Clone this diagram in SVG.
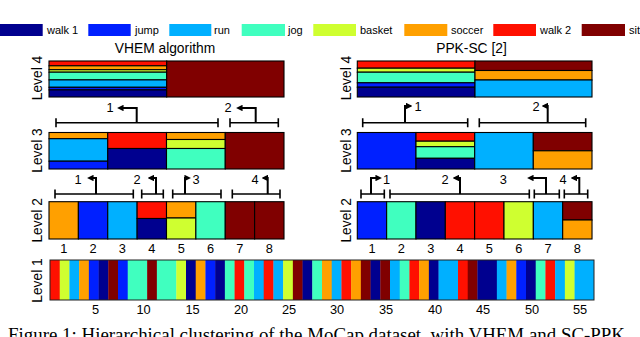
<svg xmlns="http://www.w3.org/2000/svg" width="640" height="337" viewBox="0 0 640 337">
<defs>
<style>
.w1{fill:#00008f}.ju{fill:#0020ff}.ru{fill:#00b0ff}.jo{fill:#40ffbf}.ba{fill:#cfff30}.so{fill:#ffa000}.w2{fill:#ff1000}.si{fill:#800000}
.c rect{stroke:#000;stroke-width:1.1}
text{font-family:"Liberation Sans",Arial,sans-serif;fill:#000}
.lg{font-size:11px}
.t{font-size:13.8px;text-anchor:middle}
.n{font-size:12.8px;text-anchor:middle}
.br{fill:none;stroke:#000;stroke-width:1.6}
.ar{fill:none;stroke:#000;stroke-width:2;marker-end:url(#ah)}
.cap{font-family:"Liberation Serif","Times New Roman",serif;font-size:19px}
</style>
<marker id="ah" markerUnits="userSpaceOnUse" markerWidth="6.5" markerHeight="6.5" viewBox="0 0 10 10" refX="7" refY="5" orient="auto"><path d="M0,0 L10,5 L0,10 z" fill="#000"/></marker>
</defs>
<rect width="640" height="337" fill="#fff"/>

<g id="legend">
<rect class="w1" x="0" y="24" width="42.7" height="12"/><text class="lg" x="47" y="34">walk 1</text>
<rect class="ju" x="88.3" y="24" width="42.4" height="12"/><text class="lg" x="135" y="34">jump</text>
<rect class="ru" x="169.3" y="24" width="42" height="12"/><text class="lg" x="214" y="34">run</text>
<rect class="jo" x="241.7" y="24" width="43.3" height="12"/><text class="lg" x="288" y="34">jog</text>
<rect class="ba" x="313.3" y="24" width="42.7" height="12"/><text class="lg" x="360" y="34">basket</text>
<rect class="so" x="404.3" y="24" width="43" height="12"/><text class="lg" x="451" y="34">soccer</text>
<rect class="w2" x="493.3" y="24" width="42.7" height="12"/><text class="lg" x="540" y="34">walk 2</text>
<rect class="si" x="581.7" y="24" width="43.3" height="12"/><text class="lg" x="629" y="34">sit</text>
</g>

<g id="titles">
<text class="t" x="165" y="53">VHEM algorithm</text>
<text class="t" x="471.5" y="53">PPK-SC [2]</text>
</g>

<g id="level-labels" class="t">
<text transform="translate(41.5,78) rotate(-90)">Level 4</text>
<text transform="translate(41.5,150.5) rotate(-90)">Level 3</text>
<text transform="translate(41.5,220.3) rotate(-90)">Level 2</text>
<text transform="translate(41.5,280.5) rotate(-90)">Level 1</text>
<text transform="translate(350.5,78) rotate(-90)">Level 4</text>
<text transform="translate(350.5,150.5) rotate(-90)">Level 3</text>
<text transform="translate(350.5,220.3) rotate(-90)">Level 2</text>
</g>

<g id="vhem-level4" class="c">
<rect class="w2" x="49" y="61" width="117.7" height="4.8"/>
<rect class="so" x="49" y="65.8" width="117.7" height="3.9"/>
<rect class="ba" x="49" y="69.7" width="117.7" height="2.5"/>
<rect class="jo" x="49" y="72.2" width="117.7" height="7.7"/>
<rect class="ru" x="49" y="79.9" width="117.7" height="7.4"/>
<rect class="ju" x="49" y="87.3" width="117.7" height="2.6"/>
<rect class="w1" x="49" y="89.9" width="117.7" height="7.1"/>
<rect class="si" x="166.7" y="61" width="117.3" height="36"/>
</g>

<g id="ppk-level4" class="c">
<rect class="w2" x="357.3" y="61" width="117.7" height="7.2"/>
<rect class="ba" x="357.3" y="68.2" width="117.7" height="4"/>
<rect class="jo" x="357.3" y="72.2" width="117.7" height="10.6"/>
<rect class="ju" x="357.3" y="82.8" width="117.7" height="4.4"/>
<rect class="w1" x="357.3" y="87.2" width="117.7" height="9.8"/>
<rect class="si" x="475" y="61" width="117" height="9.5"/>
<rect class="so" x="475" y="70.5" width="117" height="9.5"/>
<rect class="ru" x="475" y="80" width="117" height="17"/>
</g>

<g id="vhem-level3" class="c">
<rect class="so" x="49" y="132.5" width="58.75" height="6.2"/>
<rect class="ru" x="49" y="138.7" width="58.75" height="22.5"/>
<rect class="ju" x="49" y="161.2" width="58.75" height="7.8"/>
<rect class="w2" x="107.75" y="132.5" width="58.75" height="16"/>
<rect class="w1" x="107.75" y="148.5" width="58.75" height="20.5"/>
<rect class="so" x="166.5" y="132.5" width="58.75" height="7"/>
<rect class="ba" x="166.5" y="139.5" width="58.75" height="9"/>
<rect class="jo" x="166.5" y="148.5" width="58.75" height="20.5"/>
<rect class="si" x="225.25" y="132.5" width="58.75" height="36.5"/>
</g>

<g id="ppk-level3" class="c">
<rect class="ju" x="357.3" y="132.5" width="58.7" height="36.5"/>
<rect class="w2" x="416" y="132.5" width="58.7" height="8.7"/>
<rect class="ba" x="416" y="141.2" width="58.7" height="5.5"/>
<rect class="jo" x="416" y="146.7" width="58.7" height="11.6"/>
<rect class="w1" x="416" y="158.3" width="58.7" height="10.7"/>
<rect class="ru" x="474.7" y="132.5" width="58.6" height="36.5"/>
<rect class="si" x="533.3" y="132.5" width="58.7" height="18.3"/>
<rect class="so" x="533.3" y="150.8" width="58.7" height="18.2"/>
</g>

<g id="vhem-level2" class="c">
<rect class="so" x="49" y="201.7" width="29.375" height="37.3"/>
<rect class="ju" x="78.375" y="201.7" width="29.375" height="37.3"/>
<rect class="ru" x="107.75" y="201.7" width="29.375" height="37.3"/>
<rect class="w2" x="137.125" y="201.7" width="29.375" height="16.8"/>
<rect class="w1" x="137.125" y="218.5" width="29.375" height="20.5"/>
<rect class="so" x="166.5" y="201.7" width="29.375" height="16.3"/>
<rect class="ba" x="166.5" y="218" width="29.375" height="21"/>
<rect class="jo" x="195.875" y="201.7" width="29.375" height="37.3"/>
<rect class="si" x="225.25" y="201.7" width="29.375" height="37.3"/>
<rect class="si" x="254.625" y="201.7" width="29.375" height="37.3"/>
</g>

<g id="ppk-level2" class="c">
<rect class="ju" x="357.3" y="201.7" width="29.34" height="37.3"/>
<rect class="jo" x="386.64" y="201.7" width="29.34" height="37.3"/>
<rect class="w1" x="415.98" y="201.7" width="29.34" height="37.3"/>
<rect class="w2" x="445.32" y="201.7" width="29.34" height="37.3"/>
<rect class="w2" x="474.66" y="201.7" width="29.34" height="37.3"/>
<rect class="ba" x="504" y="201.7" width="29.34" height="37.3"/>
<rect class="ru" x="533.34" y="201.7" width="29.34" height="37.3"/>
<rect class="si" x="562.68" y="201.7" width="29.34" height="18.3"/>
<rect class="so" x="562.68" y="220" width="29.34" height="19"/>
</g>

<g id="level2-numbers" class="n">
<text x="63.7" y="253">1</text><text x="93.1" y="253">2</text><text x="122.4" y="253">3</text><text x="151.8" y="253">4</text>
<text x="181.2" y="253">5</text><text x="210.6" y="253">6</text><text x="239.9" y="253">7</text><text x="269.3" y="253">8</text>
<text x="372" y="253">1</text><text x="401.3" y="253">2</text><text x="430.7" y="253">3</text><text x="460" y="253">4</text>
<text x="489.3" y="253">5</text><text x="518.7" y="253">6</text><text x="548" y="253">7</text><text x="577.3" y="253">8</text>
</g>

<g id="level1">
<rect class="w2" x="50" y="260" width="10" height="40"/>
<rect class="ba" x="59.71" y="260" width="10" height="40"/>
<rect class="ru" x="69.43" y="260" width="10" height="40"/>
<rect class="so" x="79.14" y="260" width="10" height="40"/>
<rect class="ju" x="88.86" y="260" width="10" height="40"/>
<rect class="w1" x="98.57" y="260" width="10" height="40"/>
<rect class="si" x="108.29" y="260" width="10" height="40"/>
<rect class="ju" x="118" y="260" width="10" height="40"/>
<rect class="jo" x="127.71" y="260" width="19.7" height="40"/>
<rect class="si" x="147.14" y="260" width="10" height="40"/>
<rect class="jo" x="156.86" y="260" width="19.7" height="40"/>
<rect class="ba" x="176.29" y="260" width="10" height="40"/>
<rect class="w1" x="186" y="260" width="10" height="40"/>
<rect class="so" x="195.71" y="260" width="10" height="40"/>
<rect class="ju" x="205.43" y="260" width="10" height="40"/>
<rect class="w1" x="215.14" y="260" width="10" height="40"/>
<rect class="jo" x="224.86" y="260" width="10" height="40"/>
<rect class="w2" x="234.57" y="260" width="10" height="40"/>
<rect class="jo" x="244.29" y="260" width="10" height="40"/>
<rect class="ru" x="254" y="260" width="10" height="40"/>
<rect class="w2" x="263.71" y="260" width="10" height="40"/>
<rect class="ru" x="273.43" y="260" width="10" height="40"/>
<rect class="ba" x="283.14" y="260" width="10" height="40"/>
<rect class="si" x="292.86" y="260" width="10" height="40"/>
<rect class="w1" x="302.57" y="260" width="10" height="40"/>
<rect class="jo" x="312.29" y="260" width="10" height="40"/>
<rect class="so" x="322" y="260" width="10" height="40"/>
<rect class="ru" x="331.71" y="260" width="10" height="40"/>
<rect class="w2" x="341.43" y="260" width="10" height="40"/>
<rect class="so" x="351.14" y="260" width="10" height="40"/>
<rect class="si" x="360.86" y="260" width="10" height="40"/>
<rect class="w1" x="370.57" y="260" width="10" height="40"/>
<rect class="si" x="380.29" y="260" width="10" height="40"/>
<rect class="ru" x="390" y="260" width="10" height="40"/>
<rect class="jo" x="399.71" y="260" width="10" height="40"/>
<rect class="w2" x="409.43" y="260" width="10" height="40"/>
<rect class="so" x="419.14" y="260" width="10" height="40"/>
<rect class="w1" x="428.86" y="260" width="10" height="40"/>
<rect class="ru" x="438.57" y="260" width="19.7" height="40"/>
<rect class="w2" x="458" y="260" width="10" height="40"/>
<rect class="si" x="467.71" y="260" width="10" height="40"/>
<rect class="w1" x="477.43" y="260" width="19.7" height="40"/>
<rect class="ru" x="496.86" y="260" width="10" height="40"/>
<rect class="so" x="506.57" y="260" width="10" height="40"/>
<rect class="ju" x="516.29" y="260" width="10" height="40"/>
<rect class="w1" x="526" y="260" width="10" height="40"/>
<rect class="jo" x="535.71" y="260" width="10" height="40"/>
<rect class="w2" x="545.43" y="260" width="10" height="40"/>
<rect class="ru" x="555.14" y="260" width="10" height="40"/>
<rect class="ba" x="564.86" y="260" width="10" height="40"/>
<rect class="ru" x="574.57" y="260" width="19.43" height="40"/>
<rect x="50" y="260" width="544" height="40" fill="none" stroke="#222" stroke-width="1"/>
</g>

<g id="level1-ticks" class="n">
<text x="95.5" y="314.3">5</text><text x="143.5" y="314.3">10</text><text x="192.5" y="314.3">15</text>
<text x="241" y="314.3">20</text><text x="289" y="314.3">25</text><text x="337" y="314.3">30</text>
<text x="386" y="314.3">35</text><text x="435" y="314.3">40</text><text x="483" y="314.3">45</text>
<text x="532" y="314.3">50</text><text x="580" y="314.3">55</text>
</g>

<g id="connectors">
<path class="br" d="M56,122.7H218M56,118.2V127.2M218,118.2V127.2"/>
<path class="br" d="M230,122.7H278.3M230,118.2V127.2M278.3,118.2V127.2"/>
<path class="br" d="M362.7,122.7H467.7M362.7,118.2V127.2M467.7,118.2V127.2"/>
<path class="br" d="M479.3,122.7H585.7M479.3,118.2V127.2M585.7,118.2V127.2"/>
<path class="br" d="M55,194H133.3M55,189.5V198.5M133.3,189.5V198.5"/>
<path class="br" d="M141.7,194H163.3M141.7,189.5V198.5M163.3,189.5V198.5"/>
<path class="br" d="M172.7,194H221M172.7,189.5V198.5M221,189.5V198.5"/>
<path class="br" d="M232.3,194H280M232.3,189.5V198.5M280,189.5V198.5"/>
<path class="br" d="M361,194H384.3M361,189.5V198.5M384.3,189.5V198.5"/>
<path class="br" d="M390,194H529.3M390,189.5V198.5M529.3,189.5V198.5"/>
<path class="br" d="M534.3,194H559.3M534.3,189.5V198.5M559.3,189.5V198.5"/>
<path class="br" d="M564.3,194H587.7M564.3,189.5V198.5M587.7,189.5V198.5"/>
<path class="ar" d="M136.7,122.7V108H119"/>
<path class="ar" d="M255.7,122.7V108H238"/>
<path class="ar" d="M405,122.7V106H410.5"/>
<path class="ar" d="M547.7,122.7V106H543.5"/>
<path class="ar" d="M96,194V178H89"/>
<path class="ar" d="M156,194V178H149.5"/>
<path class="ar" d="M185,194V178H189"/>
<path class="ar" d="M267.7,194V178H263.5"/>
<path class="ar" d="M371,194V178H380"/>
<path class="ar" d="M460,194V178H454.5"/>
<path class="ar" d="M546,194V178H529"/>
<path class="ar" d="M579.3,194V178H572.5"/>
</g>

<g id="connector-labels" class="n">
<text x="110" y="111.5">1</text><text x="228" y="111.5">2</text>
<text x="418" y="111">1</text><text x="536" y="111">2</text>
<text x="78" y="183.5">1</text><text x="137" y="183.5">2</text><text x="196" y="183.5">3</text><text x="255" y="183.5">4</text>
<text x="386.5" y="183.5">1</text><text x="445" y="183.5">2</text><text x="503.3" y="183.5">3</text><text x="563" y="183.5">4</text>
</g>

<text class="cap" x="8" y="341" textLength="617" lengthAdjust="spacingAndGlyphs">Figure 1: Hierarchical clustering of the MoCap dataset, with VHEM and SC-PPK</text>
</svg>
